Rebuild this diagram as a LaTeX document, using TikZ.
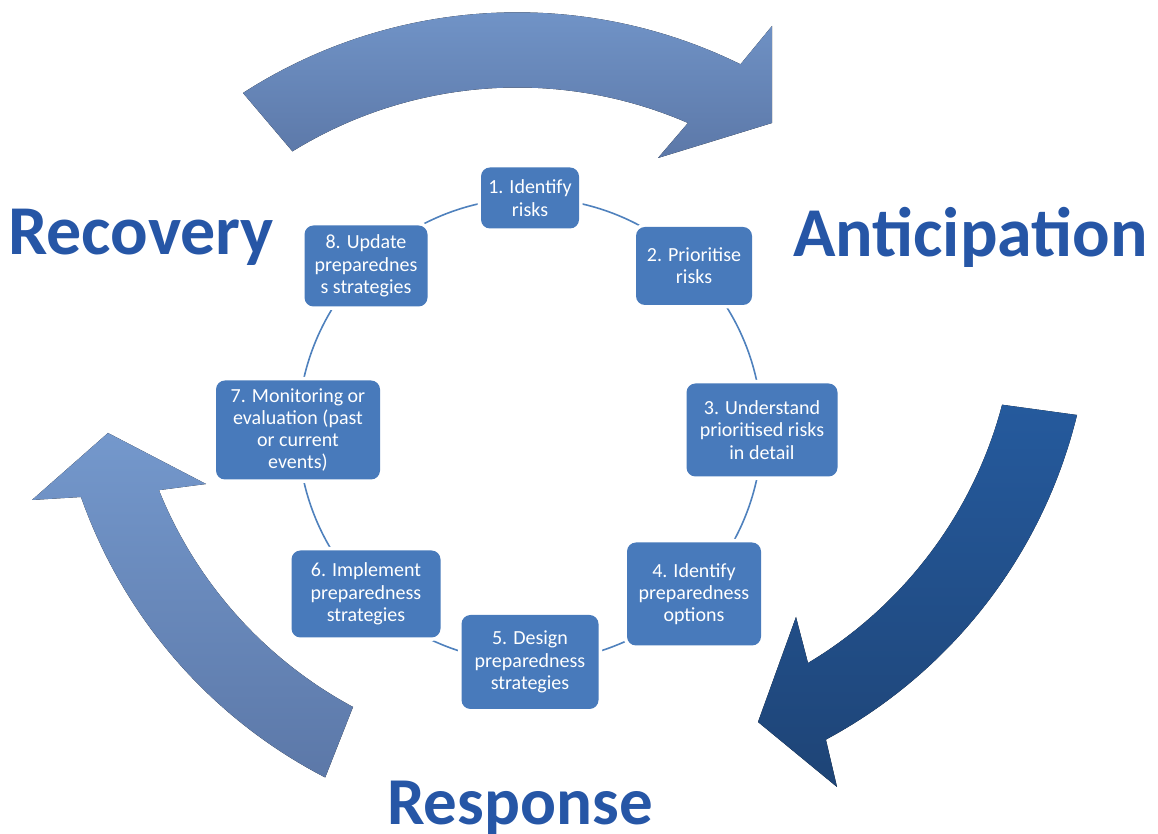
\documentclass[tikz,border=0pt]{standalone}
\usepackage{fontspec}
\setmainfont{Carlito}
\definecolor{boxblue}{RGB}{72,122,187}
\definecolor{linkblue}{RGB}{79,129,189}
\definecolor{wordblue}{RGB}{38,86,166}
\definecolor{paleA}{RGB}{116,152,204}
\definecolor{paleB}{RGB}{92,120,168}
\definecolor{deepA}{RGB}{37,90,157}
\definecolor{deepB}{RGB}{30,68,118}
\pgfdeclarelayer{back}
\pgfsetlayers{back,main}

\begin{document}
\begin{tikzpicture}[x=1pt,y=1pt,
  stepbox/.style={rectangle, rounded corners=9pt, fill=boxblue, text=white,
    align=center, inner sep=2pt, font=\fontsize{20}{22.3}\selectfont,
    preaction={draw=white, line width=7pt}},
  link/.style={draw=linkblue, line width=1.6pt},
  bigword/.style={anchor=base west, inner sep=0pt, text=wordblue,
    font=\fontsize{70}{80}\selectfont\bfseries},
  palearrow/.style={top color=paleA, bottom color=paleB, draw=none},
  deeparrow/.style={top color=deepA, bottom color=deepB, draw=none}]
\useasboundingbox (0,0) rectangle (1158,834);

% the three big curved arrows
\fill [palearrow] (243,741) arc (122.8:63.8:506) -- (772,808) -- (772,711)
  -- (658,676) -- (688,711) arc (66.5:121.7:428) -- cycle;
\fill [deeparrow] (1077,419) arc (-13.7:-61.75:504) -- (837,47) -- (758,112)
  -- (796,217) -- (808,171) arc (-59.1:-14.75:428) -- cycle;
\fill [palearrow] (353,127) arc (241.7:201.95:428) -- (206,350) -- (108,401)
  -- (32,334) -- (81,337) arc (199.4:242.7:504) -- cycle;

% the eight steps, on a circle of radius 232 round (530,404)
\node [stepbox, minimum width=98pt, minimum height=61pt] (s1) at (530,636) {1. Identify\\risks};
\node [stepbox, minimum width=116pt, minimum height=78pt] (s2) at (694,568) {2. Prioritise\\risks};
\node [stepbox, minimum width=151pt, minimum height=93pt] (s3) at (762,404) {3. Understand\\prioritised risks\\in detail};
\node [stepbox, minimum width=134pt, minimum height=103pt] (s4) at (694,240) {4. Identify\\preparedness\\options};
\node [stepbox, minimum width=137pt, minimum height=94pt] (s5) at (530,172) {5. Design\\preparedness\\strategies};
\node [stepbox, minimum width=149pt, minimum height=87pt] (s6) at (366,240) {6. Implement\\preparedness\\strategies};
\node [stepbox, minimum width=164pt, minimum height=99pt] (s7) at (298,404) {7. Monitoring or\\evaluation (past\\or current\\events)};
\node [stepbox, minimum width=123pt, minimum height=81pt] (s8) at (366,568) {8. Update\\preparednes\\s strategies};

\begin{pgfonlayer}{back}
\foreach \a/\s in {s1/90,s2/45,s3/0,s4/-45,s5/-90,s6/-135,s7/-180,s8/-225}
  \draw [link] (\a.center) arc (\s:\s-45:232);
\end{pgfonlayer}

\node [bigword] (recovery) at (8,579) {Recovery};
\node [bigword] (anticipation) at (793,577) {Anticipation};
\node [bigword, font=\fontsize{67}{80}\selectfont\bfseries] (response) at (387,9) {Response};
\end{tikzpicture}
\end{document}
